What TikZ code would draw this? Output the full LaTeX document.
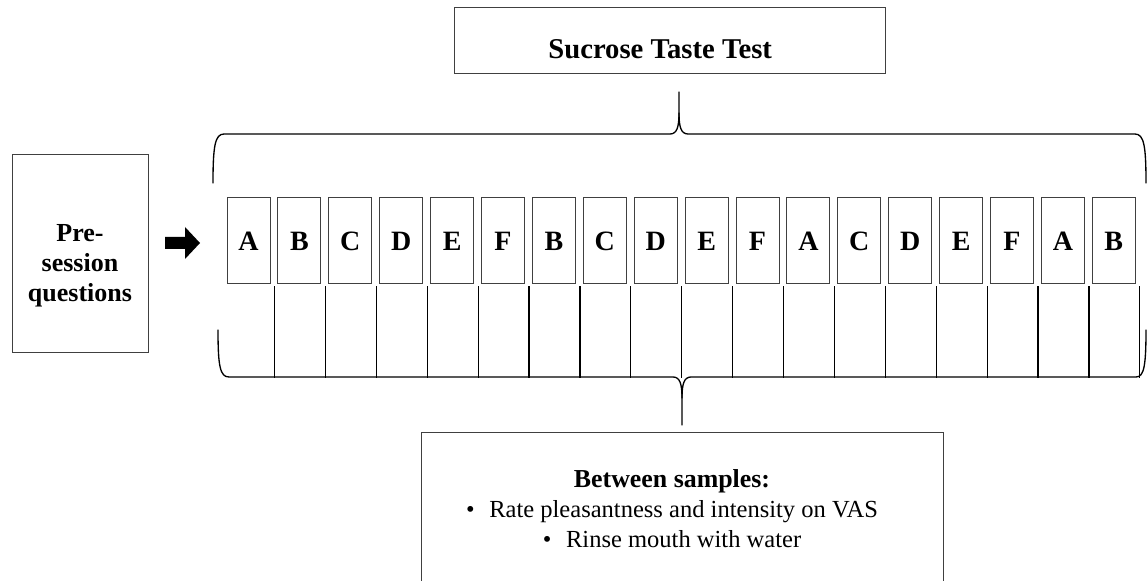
\documentclass[tikz,border=0pt]{standalone}
\usepackage{fontspec}
\setmainfont{Liberation Serif}
\usetikzlibrary{calc}
\tikzset{
  box/.style={draw=black!75, line width=0.75pt, inner sep=0pt},
  sample/.style={box, minimum width=32.25pt, minimum height=64.5pt,
    font=\bfseries\fontsize{21}{25}\selectfont},
  brace/.style={line width=1pt, line cap=round},
  rule/.style={line width=0.9pt}
}
\begin{document}
\begin{tikzpicture}[x=0.75pt,y=-0.75pt]
\useasboundingbox (0,0) rectangle (1147,581);
\clip (0,0) rectangle (1147,581);
% title and pre-session boxes
\node[box, minimum width=323.25pt, minimum height=49.5pt,
  label={[xshift=-7pt,yshift=-6pt,font=\bfseries\fontsize{21.5}{25}\selectfont]center:Sucrose Taste Test}]
  (title) at (669.5,41) {};
\node[box, minimum width=102pt, minimum height=147.75pt,
  label={[yshift=-9pt,align=center,font=\bfseries\fontsize{19.5}{22.5}\selectfont]center:Pre-\\session\\questions}]
  (pre) at (80,253.5) {};
% arrow
\fill (165,237) -- (185,237) -- (185,227) -- (200,243) -- (185,259) -- (185,249) -- (165,249) -- cycle;
% samples
\foreach \l [count=\i] in {A,B,C,D,E,F,B,C,D,E,F,A,C,D,E,F,A,B}
  \node[sample] (s\i) at ({248.5+50.9*(\i-1)},241) {\l};
\foreach \i in {1,...,18}
  \draw[rule] ($(s\i.south east)+(4,2)$) -- ++(0,91);
% braces
\draw[brace] (213,183) .. controls (213,146) and (215,134) .. (224,134) -- (670,134)
  .. controls (677,134) and (679,127) .. (679,113) -- (679,92);
\draw[brace] (679,113) .. controls (679,127) and (681,134) .. (688,134) -- (1135,134)
  .. controls (1144,134) and (1146,146) .. (1146,183);
\draw[brace] (218,330) .. controls (218,366) and (220,377) .. (229,377) -- (673,377)
  .. controls (680,377) and (682,384) .. (682,398) -- (682,425);
\draw[brace] (682,398) .. controls (682,384) and (684,377) .. (691,377) -- (1136,377)
  .. controls (1144,377) and (1146,366) .. (1146,330);
% between samples
\node[box, minimum width=391.5pt, minimum height=118.5pt,
  label={[xshift=-7.5pt,yshift=2pt,align=center,font=\fontsize{18.4}{22.5}\selectfont]center:{\bfseries\fontsize{19.4}{22.5}\selectfont Between samples:}\\
  \textbullet\hspace{11pt}Rate pleasantness and intensity on VAS\\
  \textbullet\hspace{11pt}Rinse mouth with water}]
  (rest) at (682,511) {};
\end{tikzpicture}
\end{document}
